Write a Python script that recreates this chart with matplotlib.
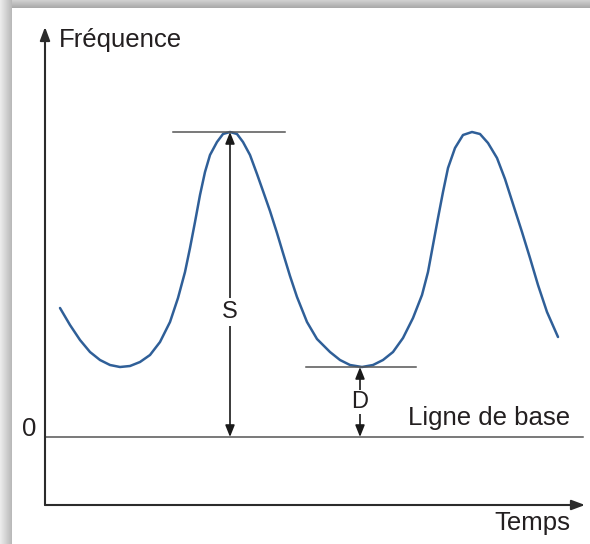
import matplotlib
matplotlib.use('Agg')
import matplotlib.pyplot as plt
import numpy as np

plt.rcParams['font.family'] = ['Liberation Sans', 'DejaVu Sans']

# curve: time (from y axis) and frequency (from baseline)
TIME = [15, 25, 35, 45, 55, 65, 75, 85, 95, 105, 115, 125, 133, 140, 145,
        150, 155, 160, 165, 172, 178, 185, 192, 198, 205, 212, 218, 225, 232,
        238, 245, 252, 262, 272, 285, 295, 305, 317, 328, 338, 348, 358, 368,
        377, 383, 388, 393, 398, 403, 410, 418, 427, 435, 443, 452, 460, 468,
        477, 485, 493, 502, 513]
FREQ = [129, 112, 97, 85, 77, 72, 70, 71, 75, 82, 95, 115, 139, 165, 189,
        215, 242, 265, 282, 295, 303, 305, 303, 295, 282, 263, 246, 226, 204,
        184, 161, 140, 115, 98, 85, 77, 72, 70, 72, 77, 85, 99, 119,
        142, 165, 192, 219, 245, 269, 289, 302, 305, 303, 294, 279, 258, 233,
        205, 179, 152, 125, 100]
PEAK = 305
TROUGH = 70


def main():
    fig = plt.figure(figsize=(5.9, 5.44), dpi=100)
    ax = fig.add_axes([0, 0, 1, 1])

    # frame shadow (left and top)
    g = np.linspace(0.93, 0.72, 64)
    ax.imshow(g[None, :], cmap='gray', vmin=0, vmax=1, extent=(-45, -33, -107, 437),
              aspect='auto', interpolation='bilinear', zorder=0)
    g = np.linspace(0.82, 0.66, 32)
    ax.imshow(g[:, None], cmap='gray', vmin=0, vmax=1, extent=(-33, 545, 429, 437),
              aspect='auto', origin='upper', interpolation='bilinear', zorder=0)
    ax.set_xlim(-45, 545)
    ax.set_ylim(-107, 437)
    ax.axis('off')

    axis_col = '#2b2b2b'
    head = dict(arrowstyle='-|>,head_length=0.8,head_width=0.3', color=axis_col,
                lw=1.5, shrinkA=0, shrinkB=0)
    ax.annotate('', xy=(0, 410), xytext=(0, -68), arrowprops=head)
    ax.annotate('', xy=(540, -68), xytext=(0, -68), arrowprops=head)

    # baseline
    ax.plot([0, 538], [0, 0], color='#555555', lw=1.1)

    # signal
    ax.plot(TIME, FREQ, color='#2f5f98', lw=1.8, solid_capstyle='round',
            solid_joinstyle='round')

    # peak / trough markers
    ax.plot([128, 240], [PEAK, PEAK], color='#555555', lw=1.1)
    ax.plot([261, 371], [TROUGH, TROUGH], color='#555555', lw=1.1)

    dbl = dict(arrowstyle='<|-|>,head_length=0.7,head_width=0.28', color='#1a1a1a',
               lw=1.2, shrinkA=0, shrinkB=0)
    ax.annotate('', xy=(185, PEAK), xytext=(185, 0), arrowprops=dbl)
    ax.annotate('', xy=(315, TROUGH), xytext=(315, 0), arrowprops=dbl)

    txt = '#231f20'
    ax.text(185, 125, 'S', ha='center', va='center', fontsize=17, color=txt,
            bbox=dict(facecolor='white', edgecolor='none', pad=2))
    ax.text(315, 35, 'D', ha='center', va='center', fontsize=17, color=txt,
            bbox=dict(facecolor='white', edgecolor='none', pad=1))

    ax.text(14, 397, 'Fréquence', ha='left', va='center', fontsize=18.5, color=txt)
    ax.text(-16, 8, '0', ha='center', va='center', fontsize=18.5, color=txt)
    ax.text(525, 19, 'Ligne de base', ha='right', va='center', fontsize=18.5, color=txt)
    ax.text(525, -86, 'Temps', ha='right', va='center', fontsize=18.5, color=txt)

    fig.savefig('out.png', dpi=100)


if __name__ == '__main__':
    main()
